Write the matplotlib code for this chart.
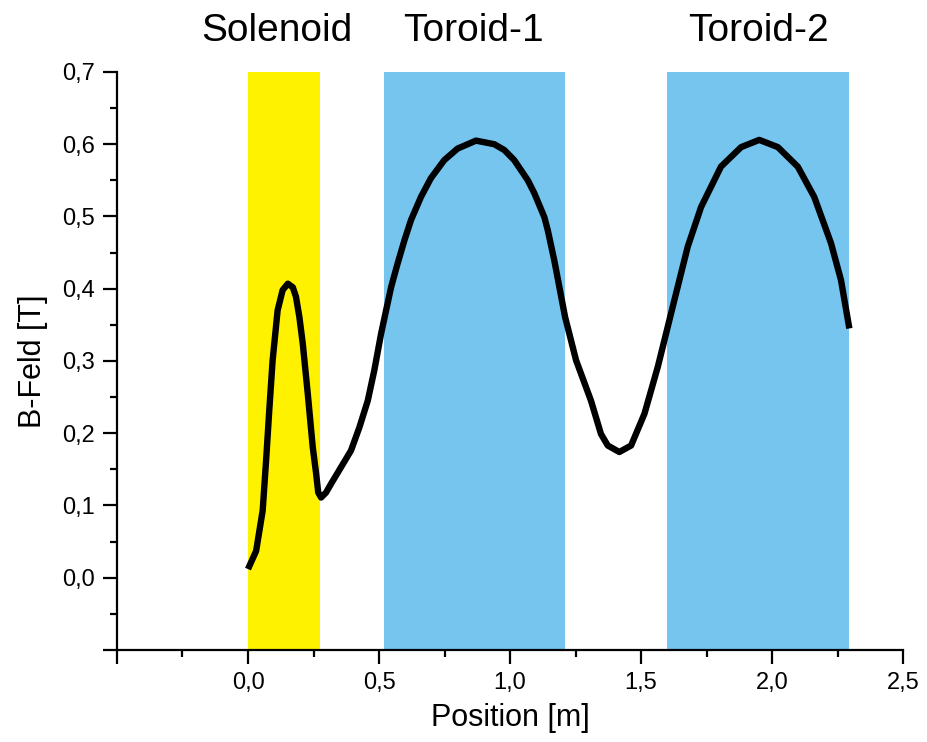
import matplotlib.pyplot as plt
import matplotlib.transforms as mtransforms
from matplotlib.ticker import MultipleLocator, FuncFormatter

plt.rcParams['font.family'] = ['Liberation Sans', 'DejaVu Sans']

# magnet regions (start, end) in m
regions = ['Solenoid', 'Toroid-1', 'Toroid-2']
region_start = [0.0, 0.52, 1.60]
region_end = [0.275, 1.21, 2.295]
region_colors = ['#fff200', '#76c5ef', '#76c5ef']
label_x = [0.11, 0.86, 1.95]

# field profile
pos = [0.0, 0.031, 0.056, 0.069, 0.081, 0.094, 0.113, 0.132, 0.152, 0.171,
       0.183, 0.196, 0.209, 0.228, 0.247, 0.260, 0.268, 0.279, 0.298, 0.317,
       0.355, 0.393, 0.425, 0.457, 0.482, 0.508, 0.546, 0.571, 0.597,
       0.622, 0.660, 0.698, 0.749, 0.800, 0.870, 0.940, 0.978, 1.016, 1.068,
       1.093, 1.131, 1.144, 1.169, 1.210, 1.252, 1.309, 1.347, 1.373, 1.417,
       1.462, 1.513, 1.564, 1.627, 1.678, 1.729, 1.805, 1.882, 1.951, 2.022,
       2.098, 2.161, 2.225, 2.263, 2.295]
bfeld = [0.012, 0.037, 0.093, 0.162, 0.231, 0.301, 0.370, 0.398, 0.407, 0.402,
         0.389, 0.361, 0.324, 0.255, 0.181, 0.144, 0.118, 0.111, 0.118, 0.130,
         0.153, 0.176, 0.208, 0.245, 0.287, 0.338, 0.402, 0.435, 0.467,
         0.495, 0.527, 0.553, 0.578, 0.594, 0.605, 0.600, 0.592, 0.578, 0.550,
         0.532, 0.499, 0.481, 0.439, 0.361, 0.301, 0.245, 0.199, 0.183, 0.174,
         0.183, 0.227, 0.292, 0.384, 0.458, 0.513, 0.569, 0.596, 0.606, 0.596,
         0.569, 0.527, 0.463, 0.412, 0.345]

fig = plt.figure(figsize=(9.27, 7.42), dpi=100)
ax = fig.add_axes([0.1262, 0.124, 0.848, 0.779])

# region labels: x in data, y in figure coords
top_trans = mtransforms.blended_transform_factory(ax.transData, fig.transFigure)
for name, x0, x1, c, lx in zip(regions, region_start, region_end, region_colors, label_x):
    ax.axvspan(x0, x1, color=c, lw=0, zorder=0)
    ax.text(lx, 0.958, name, transform=top_trans, ha='center', va='center', fontsize=28)

ax.plot(pos, bfeld, color='black', lw=4.6, solid_joinstyle='round',
        solid_capstyle='butt', zorder=3)

ax.set_xlim(-0.5, 2.5)
ax.set_ylim(-0.1, 0.7)
ax.spines['top'].set_visible(False)
ax.spines['right'].set_visible(False)
for s in ['left', 'bottom']:
    ax.spines[s].set_linewidth(1.6)

ax.xaxis.set_major_locator(MultipleLocator(0.5))
ax.xaxis.set_minor_locator(MultipleLocator(0.25))
ax.yaxis.set_major_locator(MultipleLocator(0.1))
ax.yaxis.set_minor_locator(MultipleLocator(0.05))


def comma(v, p):
    if v < -1e-9:
        return ''
    return f'{v:.1f}'.replace('.', ',')


ax.xaxis.set_major_formatter(FuncFormatter(comma))
ax.yaxis.set_major_formatter(FuncFormatter(comma))
ax.tick_params(which='major', direction='out', length=10, width=1.6, labelsize=17, pad=6)
ax.tick_params(which='minor', direction='out', length=5, width=1.6)

ax.set_xlabel('Position [m]', fontsize=22, labelpad=6)
ax.set_ylabel('B-Feld [T]', fontsize=22, labelpad=10)

fig.savefig('out.png', dpi=100)
